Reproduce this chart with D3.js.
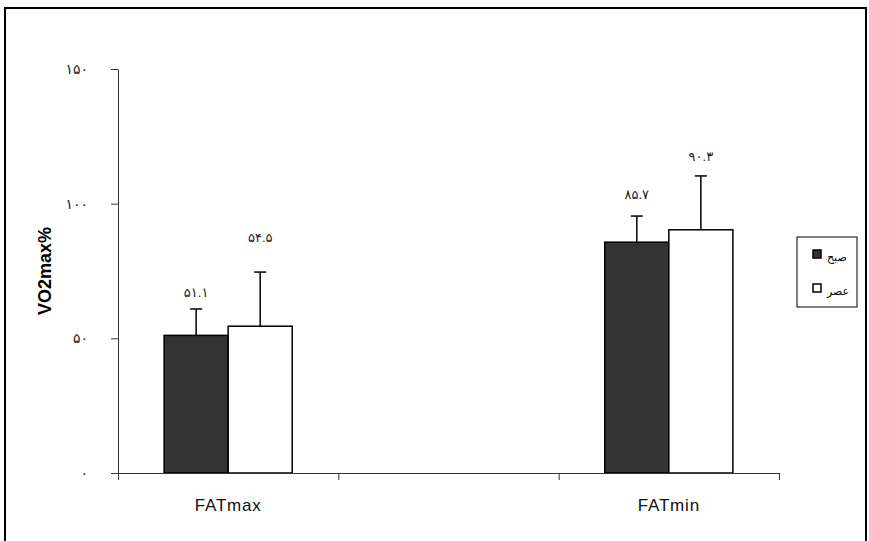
<!DOCTYPE html>
<html>
<head>
<meta charset="utf-8">
<script src="https://cdn.jsdelivr.net/npm/d3@7"></script>
<style>
  body { margin: 0; background: #fff; }
  text { font-family: "Liberation Sans", Arial, "DejaVu Sans", sans-serif; }
</style>
</head>
<body>
<svg id="chart" width="869" height="541"></svg>
<script>
// chart values
const categories = ['FATmax', '', 'FATmin'];
const seriesNames = ['صبح', 'عصر'];
const seriesColors = ['#333333', '#ffffff'];
const means = [[51.1, 54.5], [null, null], [85.7, 90.3]];
const sds = [[9.8, 20.1], [null, null], [9.7, 20.0]];
const yTicks = [0, 50, 100, 150];

const faDigits = '۰۱۲۳۴۵۶۷۸۹';
const fa = (v) => String(v).replace(/[0-9]/g, d => faDigits[+d]);

const svg = d3.select('#chart');

// outer chart border
svg.append('rect')
  .attr('x', 5).attr('y', 8)
  .attr('width', 861).attr('height', 545)
  .attr('fill', 'none')
  .attr('stroke', '#000')
  .attr('stroke-width', 2);

const x = d3.scaleBand().domain(categories).range([118, 779]).paddingInner(0).paddingOuter(0);
const xSub = d3.scaleBand().domain(seriesNames).range([0, x.bandwidth()]).paddingOuter(0.72).paddingInner(0);
const y = d3.scaleLinear().domain([0, 150]).range([473, 69]);
// category boundaries for the excel style ticks
const xEdge = d3.scaleLinear().domain([0, categories.length]).range(x.range());

const g = svg.append('g');

// bars
const rows = [];
categories.forEach((c, i) => {
  seriesNames.forEach((s, j) => {
    if (means[i][j] != null) rows.push({ cat: c, ser: s, j, mean: means[i][j], sd: sds[i][j] });
  });
});

g.selectAll('rect.bar')
  .data(rows).enter()
  .append('rect')
  .attr('class', 'bar')
  .attr('x', d => x(d.cat) + xSub(d.ser))
  .attr('y', d => y(d.mean))
  .attr('width', xSub.bandwidth())
  .attr('height', d => y(0) - y(d.mean))
  .attr('fill', d => seriesColors[d.j])
  .attr('stroke', '#000')
  .attr('stroke-width', 1.5);

// error bars
const errs = g.selectAll('g.err').data(rows).enter().append('g').attr('class', 'err')
  .attr('transform', d => `translate(${x(d.cat) + xSub(d.ser) + xSub.bandwidth() / 2},0)`);
errs.append('line')
  .attr('y1', d => y(d.mean)).attr('y2', d => y(d.mean + d.sd))
  .attr('stroke', '#000').attr('stroke-width', 1.5);
errs.append('line')
  .attr('x1', -6).attr('x2', 6)
  .attr('y1', d => y(d.mean + d.sd)).attr('y2', d => y(d.mean + d.sd))
  .attr('stroke', '#000').attr('stroke-width', 1.5);

// value labels (hand placed in the original, so lift differs a bit)
const labelLift = [12, 30, 17, 15];
errs.append('text')
  .attr('y', (d, i) => y(d.mean + d.sd) - labelLift[i])
  .attr('text-anchor', 'middle')
  .attr('font-size', 13)
  .attr('letter-spacing', 0.5)
  .attr('fill', '#222')
  .text(d => fa(d.mean.toFixed(1)));

// y axis
const yAxis = svg.append('g')
  .attr('transform', 'translate(118,0)')
  .call(d3.axisLeft(y).tickValues(yTicks).tickSize(7).tickSizeOuter(0).tickPadding(23).tickFormat(fa));
yAxis.selectAll('text').attr('font-size', 14).attr('letter-spacing', 2).attr('fill', '#222')
  .style('font-family', '"DejaVu Sans", sans-serif');
yAxis.selectAll('line, path').attr('stroke', '#333');

// x axis: boundary ticks
const xAxis = svg.append('g')
  .attr('transform', 'translate(0,473)')
  .call(d3.axisBottom(xEdge).tickValues(d3.range(categories.length + 1)).tickSize(7).tickSizeOuter(0).tickFormat(''));
xAxis.selectAll('line, path').attr('stroke', '#333');

// x axis: category labels
svg.append('g')
  .attr('transform', 'translate(0,473)')
  .call(d3.axisBottom(x).tickSize(0).tickPadding(26))
  .call(a => a.select('.domain').remove())
  .selectAll('text')
  .attr('font-size', 17)
  .attr('letter-spacing', 0.8)
  .attr('fill', '#111');

// y title
svg.append('text')
  .attr('transform', 'translate(51,271) rotate(-90)')
  .attr('text-anchor', 'middle')
  .attr('font-size', 18)
  .attr('font-weight', 'bold')
  .text('VO2max%');

// legend
const lg = svg.append('g').attr('transform', 'translate(797,237)');
lg.append('rect').attr('width', 60).attr('height', 70)
  .attr('fill', '#fff').attr('stroke', '#000').attr('stroke-width', 1);
const items = lg.selectAll('g.item').data(seriesNames).enter().append('g')
  .attr('transform', (d, i) => `translate(16,${13 + i * 34})`);
items.append('rect').attr('width', 8).attr('height', 8)
  .attr('fill', (d, i) => seriesColors[i]).attr('stroke', '#000').attr('stroke-width', 1.5);
items.append('text')
  .attr('x', 14).attr('y', 11)
  .attr('font-size', 11)
  .style('font-family', '"DejaVu Sans", sans-serif')
  .text(d => d);
</script>
</body>
</html>
